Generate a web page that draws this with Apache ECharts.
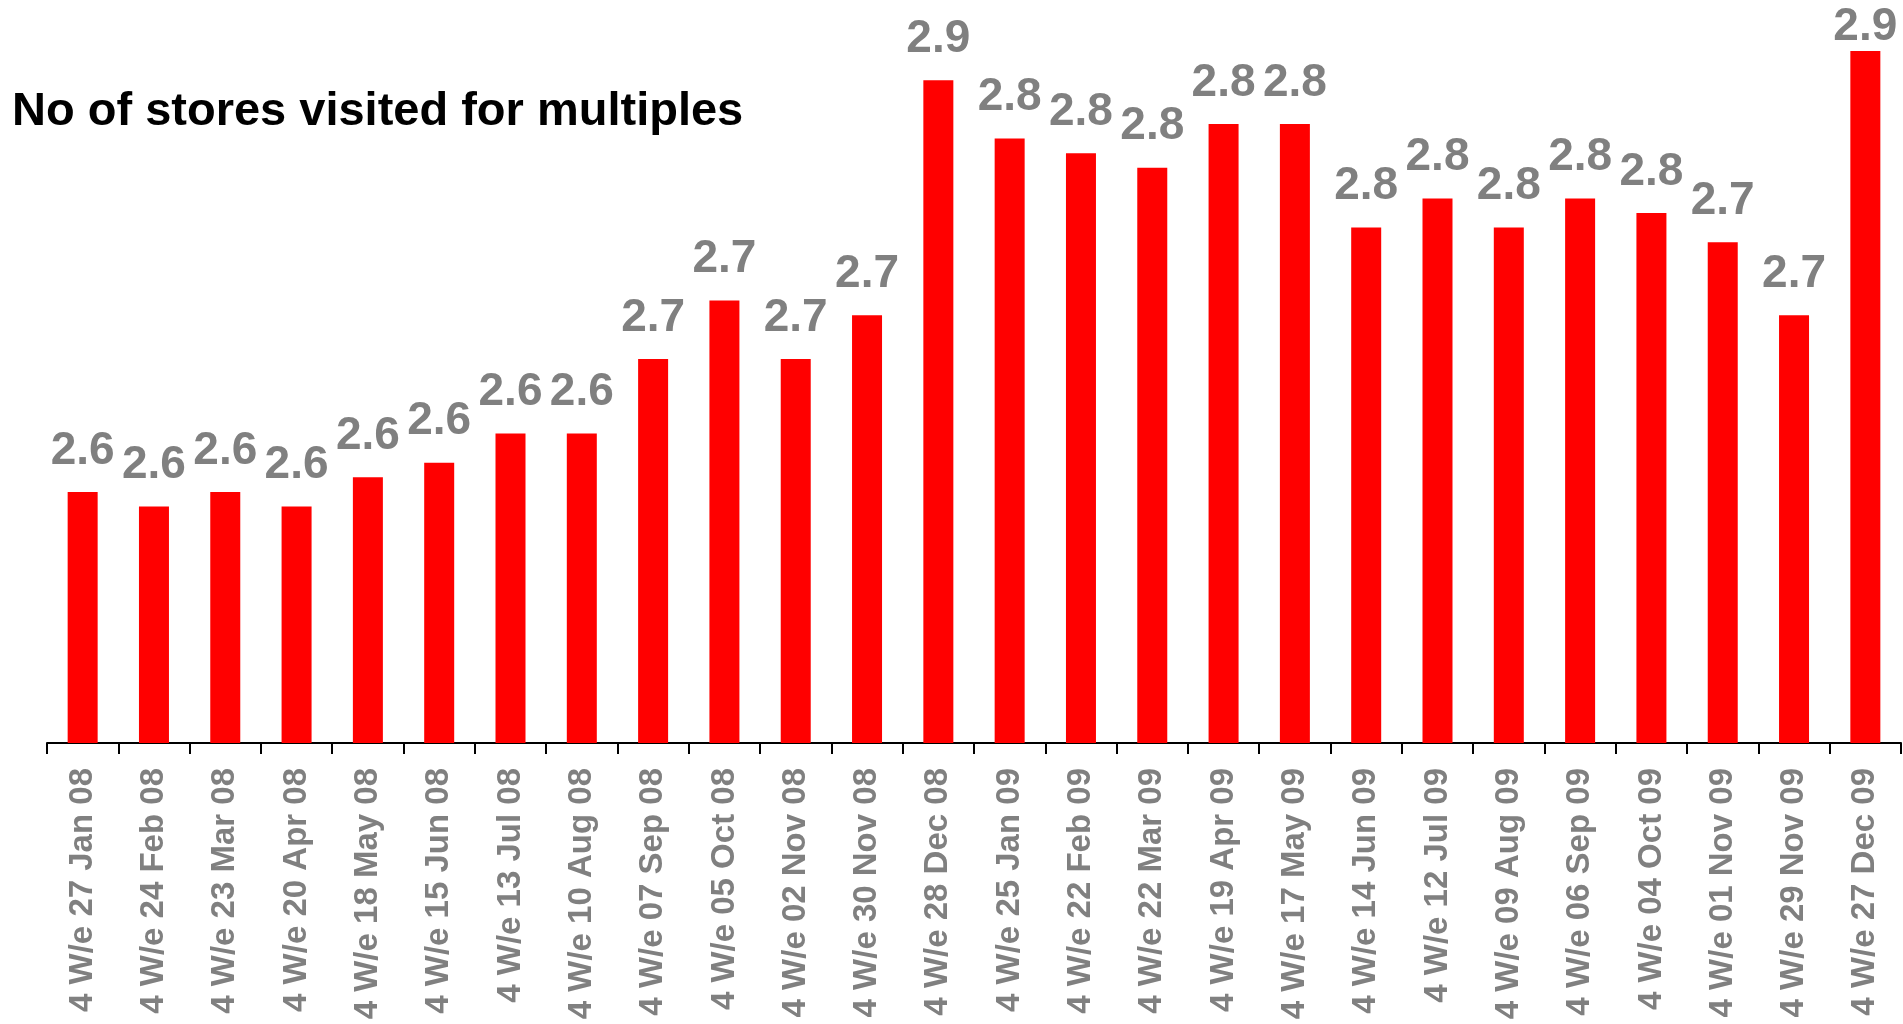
<!DOCTYPE html>
<html>
<head>
<meta charset="utf-8">
<title>No of stores visited for multiples</title>
<script src="https://cdn.jsdelivr.net/npm/echarts@6/dist/echarts.min.js"></script>
<style>
  html, body { margin: 0; padding: 0; background: #ffffff; }
  #chart { width: 1903px; height: 1024px; }
</style>
</head>
<body>
<div id="chart"></div>
<script>
// Four-week periods ending on these dates
const periods = [
  '4 W/e 27 Jan 08', '4 W/e 24 Feb 08', '4 W/e 23 Mar 08', '4 W/e 20 Apr 08',
  '4 W/e 18 May 08', '4 W/e 15 Jun 08', '4 W/e 13 Jul 08', '4 W/e 10 Aug 08',
  '4 W/e 07 Sep 08', '4 W/e 05 Oct 08', '4 W/e 02 Nov 08', '4 W/e 30 Nov 08',
  '4 W/e 28 Dec 08', '4 W/e 25 Jan 09', '4 W/e 22 Feb 09', '4 W/e 22 Mar 09',
  '4 W/e 19 Apr 09', '4 W/e 17 May 09', '4 W/e 14 Jun 09', '4 W/e 12 Jul 09',
  '4 W/e 09 Aug 09', '4 W/e 06 Sep 09', '4 W/e 04 Oct 09', '4 W/e 01 Nov 09',
  '4 W/e 29 Nov 09', '4 W/e 27 Dec 09'
];

// Average number of stores visited per shopper for the multiples
const storesVisited = [
  2.572, 2.562, 2.572, 2.562, 2.582, 2.592, 2.612, 2.612,
  2.663, 2.703, 2.663, 2.693, 2.854, 2.814, 2.804, 2.794,
  2.824, 2.824, 2.753, 2.773, 2.753, 2.773, 2.763, 2.743,
  2.693, 2.874
];

// Value axis range (axis itself is hidden)
const valueMin = 2.4;
const valueMax = 2.9;

const FONT = '"Liberation Sans", Arial, Helvetica, sans-serif';
const GREY = '#808080';

const CHART_H = 1024;
const GRID = { left: 47, right: 2, top: 13, bottom: 281 };
const LABEL_SIZE = 46;
const LABEL_GAP = 18;

// Keep value labels inside the canvas: a label that would run off the top
// edge is pulled down towards its bar.
function labelGap(v) {
  const plotH = CHART_H - GRID.top - GRID.bottom;
  const barTop = GRID.top + (valueMax - v) / (valueMax - valueMin) * plotH;
  return Math.max(0, Math.min(LABEL_GAP, barTop - LABEL_SIZE - 4));
}

const barData = storesVisited.map(v => ({
  value: v,
  label: { distance: labelGap(v) }
}));

const chart = echarts.init(document.getElementById('chart'), null, { renderer: 'canvas' });

chart.setOption({
  animation: false,
  backgroundColor: '#ffffff',
  title: {
    text: 'No of stores visited for multiples',
    left: 12,
    top: 89,
    padding: 0,
    textStyle: {
      fontFamily: FONT,
      fontSize: 47,
      fontWeight: 'bold',
      color: '#000000'
    }
  },
  grid: {
    left: GRID.left,
    right: GRID.right,
    top: GRID.top,
    bottom: GRID.bottom,
    containLabel: false
  },
  xAxis: {
    type: 'category',
    data: periods,
    axisLine: { show: true, lineStyle: { color: '#000000', width: 2 } },
    axisTick: { show: true, length: 11, lineStyle: { color: '#000000', width: 2 } },
    axisLabel: {
      interval: 0,
      rotate: 90,
      margin: 25,
      fontFamily: FONT,
      fontSize: 33,
      fontWeight: 'bold',
      color: GREY
    },
    splitLine: { show: false }
  },
  yAxis: {
    type: 'value',
    min: valueMin,
    max: valueMax,
    show: false,
    splitLine: { show: false }
  },
  series: [{
    type: 'bar',
    data: barData,
    barWidth: 30,
    itemStyle: { color: '#ff0000' },
    label: {
      show: true,
      position: 'top',
      distance: LABEL_GAP,
      fontFamily: FONT,
      fontSize: LABEL_SIZE,
      fontWeight: 'bold',
      color: GREY,
      formatter: p => p.value.toFixed(1)
    }
  }]
});
</script>
</body>
</html>
